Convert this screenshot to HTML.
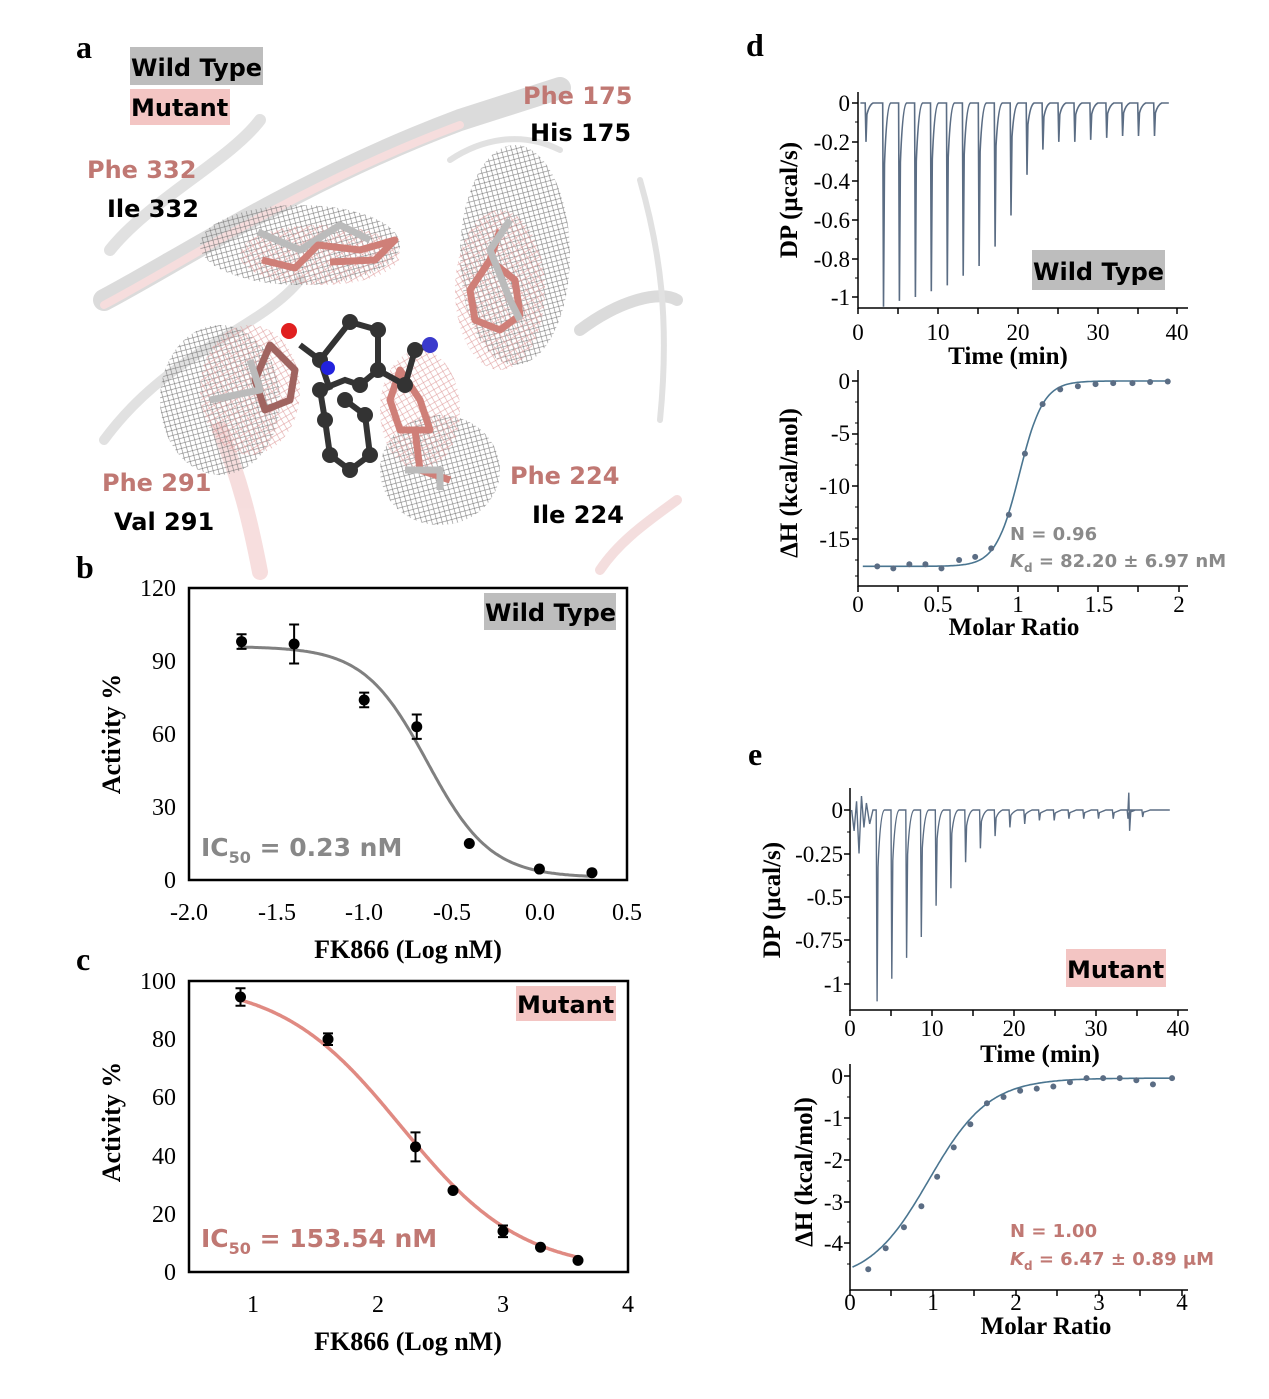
<!DOCTYPE html>
<html><head><meta charset="utf-8"><style>
body{margin:0;background:#fff}
svg{display:block}
.ser{font-family:"Liberation Serif",serif}
.sans{font-family:"DejaVu Sans","Liberation Sans",sans-serif;font-weight:bold}
</style></head><body>
<svg id="s" width="1269" height="1399" viewBox="0 0 1269 1399" xmlns="http://www.w3.org/2000/svg">
<defs>
<pattern id="mg" width="7" height="7" patternUnits="userSpaceOnUse" patternTransform="rotate(30)"><path d="M0 0L7 7M7 0L0 7" stroke="#777" stroke-width="0.6"/></pattern>
<pattern id="mp" width="8" height="8" patternUnits="userSpaceOnUse" patternTransform="rotate(15)"><path d="M0 0L8 8M8 0L0 8" stroke="#e0a0a0" stroke-width="0.6"/></pattern>
</defs>
<g opacity="0.35" fill="none" stroke-linecap="round">
<path d="M104 300 C180 260 300 180 460 120 L560 88" stroke="#999" stroke-width="22"/>
<path d="M104 305 C180 265 300 185 460 125" stroke="#e7a0a0" stroke-width="8"/>
<path d="M110 250 C150 200 230 160 260 120" stroke="#aaa" stroke-width="12"/>
<path d="M104 440 C170 350 260 330 300 280" stroke="#aaa" stroke-width="10"/>
<path d="M580 330 C620 300 660 290 677 300" stroke="#999" stroke-width="12"/>
<path d="M600 570 C620 540 650 520 677 500" stroke="#e0a0a0" stroke-width="10"/>
<path d="M260 572 C250 520 240 480 220 430" stroke="#e7a0a0" stroke-width="16"/>
<path d="M640 180 C660 250 670 320 660 420" stroke="#aaa" stroke-width="6"/>
<path d="M450 160 C480 140 520 130 560 150" stroke="#aaa" stroke-width="6"/>
</g>
<ellipse cx="300" cy="245" rx="100" ry="40" fill="url(#mg)"/>
<ellipse cx="320" cy="255" rx="80" ry="30" fill="url(#mp)"/>
<ellipse cx="515" cy="255" rx="55" ry="110" fill="url(#mg)"/>
<ellipse cx="500" cy="290" rx="45" ry="80" fill="url(#mp)"/>
<ellipse cx="220" cy="400" rx="60" ry="75" fill="url(#mg)"/>
<ellipse cx="250" cy="390" rx="50" ry="65" fill="url(#mp)"/>
<ellipse cx="440" cy="470" rx="60" ry="55" fill="url(#mg)"/>
<ellipse cx="420" cy="410" rx="40" ry="60" fill="url(#mp)"/>
<g fill="none" stroke-width="7" stroke-linejoin="round">
<path d="M258 232 L300 250 L340 225 L370 240" stroke="#bbb"/>
<path d="M262 260 L295 268 L318 245 L360 250 L395 240 L375 260 L330 262" stroke="#cf7f78"/>
<path d="M500 230 L490 260 L470 290 L475 320 L500 330 L520 315 L515 280 L490 260" stroke="#cf7f78"/>
<path d="M510 220 L490 250 L510 300 L520 320" stroke="#bbb"/>
<path d="M270 345 L255 380 L265 410 L290 400 L295 370 Z" stroke="#a06460"/>
<path d="M210 400 L260 390 L250 360" stroke="#bbb"/>
<path d="M400 370 L390 400 L400 430 L430 430 L420 400 Z" stroke="#cf7f78"/>
<path d="M415 430 L420 470 L450 480" stroke="#cf7f78"/>
<path d="M405 470 L440 470 L440 490" stroke="#bbb"/>
</g>
<g stroke="#333" stroke-width="6" fill="none">
<path d="M300 345 L320 360 L350 322 L378 330 L378 370 L405 385 L415 350 L430 345 M378 370 L360 385 L345 380 L320 390 L325 420 L330 455 L350 470 L370 455 L365 415 L345 400 M320 360 L330 390"/>
</g>
<g fill="#333">
<circle cx="320" cy="360" r="8"/><circle cx="350" cy="322" r="8"/><circle cx="378" cy="330" r="8"/><circle cx="378" cy="370" r="8"/><circle cx="405" cy="385" r="8"/><circle cx="415" cy="350" r="8"/><circle cx="360" cy="385" r="8"/><circle cx="345" cy="400" r="8"/><circle cx="320" cy="390" r="8"/><circle cx="325" cy="420" r="8"/><circle cx="330" cy="455" r="8"/><circle cx="350" cy="470" r="8"/><circle cx="370" cy="455" r="8"/><circle cx="365" cy="415" r="8"/><circle cx="430" cy="345" r="8" fill="#3a3acc"/><circle cx="328" cy="368" r="7" fill="#2222dd"/><circle cx="289" cy="331" r="8" fill="#e02020"/>
</g>
<rect x="130" y="47" width="133" height="38" fill="#bdbdbd"/>
<rect x="130" y="89" width="100" height="36" fill="#f3c5c3"/>
<g class="sans" font-size="24">
<text x="131" y="76">Wild Type</text>
<text x="131" y="116">Mutant</text>
<text x="523" y="104" fill="#c07873">Phe 175</text>
<text x="530" y="141">His 175</text>
<text x="87" y="178" fill="#c07873">Phe 332</text>
<text x="107" y="217">Ile 332</text>
<text x="102" y="491" fill="#c07873">Phe 291</text>
<text x="114" y="530">Val 291</text>
<text x="510" y="484" fill="#c07873">Phe 224</text>
<text x="532" y="523">Ile 224</text>
</g>
<g class="ser" font-weight="bold" font-size="32">
<text x="76" y="58">a</text><text x="76" y="578">b</text><text x="76" y="970">c</text><text x="746" y="56">d</text><text x="748" y="765">e</text>
</g>
<rect x="189" y="588" width="438" height="292" fill="none" stroke="#000" stroke-width="2.5"/>
<rect x="484" y="593" width="132" height="37" fill="#bdbdbd"/>
<text class="sans" x="485" y="621" font-size="24">Wild Type</text>
<text class="sans" x="201" y="856" font-size="25" fill="#888">IC<tspan font-size="16" dy="7">50</tspan><tspan dy="-7"> = 0.23 nM</tspan></text>
<g class="ser" font-size="24" text-anchor="end">
<text x="176" y="596">120</text><text x="176" y="669">90</text><text x="176" y="742">60</text><text x="176" y="815">30</text><text x="176" y="888">0</text>
</g>
<g class="ser" font-size="24" text-anchor="middle">
<text x="189" y="920">-2.0</text><text x="277" y="920">-1.5</text><text x="364" y="920">-1.0</text><text x="452" y="920">-0.5</text><text x="540" y="920">0.0</text><text x="627" y="920">0.5</text>
</g>
<text class="ser" font-weight="bold" font-size="26" x="408" y="958" text-anchor="middle">FK866 (Log nM)</text>
<text class="ser" font-weight="bold" font-size="26" transform="translate(120,734) rotate(-90)" text-anchor="middle">Activity %</text>
<rect x="189" y="981" width="439" height="291" fill="none" stroke="#000" stroke-width="2.5"/>
<rect x="516" y="986" width="100" height="35" fill="#f3c5c3"/>
<text class="sans" x="517" y="1013" font-size="24">Mutant</text>
<text class="sans" x="201" y="1247" font-size="25" fill="#c07873">IC<tspan font-size="16" dy="7">50</tspan><tspan dy="-7"> = 153.54 nM</tspan></text>
<g class="ser" font-size="24" text-anchor="end">
<text x="176" y="989">100</text><text x="176" y="1047">80</text><text x="176" y="1105">60</text><text x="176" y="1164">40</text><text x="176" y="1222">20</text><text x="176" y="1280">0</text>
</g>
<g class="ser" font-size="24" text-anchor="middle">
<text x="253" y="1312">1</text><text x="378" y="1312">2</text><text x="503" y="1312">3</text><text x="628" y="1312">4</text>
</g>
<text class="ser" font-weight="bold" font-size="26" x="408" y="1350" text-anchor="middle">FK866 (Log nM)</text>
<text class="ser" font-weight="bold" font-size="26" transform="translate(120,1122) rotate(-90)" text-anchor="middle">Activity %</text>
<g class="ser" font-size="23">
<g text-anchor="end"><text x="850" y="111">0</text><text x="850" y="150">-0.2</text><text x="850" y="189">-0.4</text><text x="850" y="228">-0.6</text><text x="850" y="267">-0.8</text><text x="850" y="305">-1</text>
<text x="850" y="389">0</text><text x="850" y="441">-5</text><text x="850" y="494">-10</text><text x="850" y="547">-15</text></g>
<g text-anchor="middle"><text x="858" y="340">0</text><text x="938" y="340">10</text><text x="1018" y="340">20</text><text x="1098" y="340">30</text><text x="1177" y="340">40</text>
<text x="858" y="612">0</text><text x="938" y="612">0.5</text><text x="1018" y="612">1</text><text x="1099" y="612">1.5</text><text x="1179" y="612">2</text></g>
</g>
<text class="ser" font-weight="bold" font-size="25" x="1008" y="364" text-anchor="middle">Time (min)</text>
<text class="ser" font-weight="bold" font-size="25" x="1014" y="635" text-anchor="middle">Molar Ratio</text>
<text class="ser" font-weight="bold" font-size="25" transform="translate(797,200) rotate(-90)" text-anchor="middle">DP (μcal/s)</text>
<text class="ser" font-weight="bold" font-size="25" transform="translate(797,483) rotate(-90)" text-anchor="middle">ΔH (kcal/mol)</text>
<rect x="1032" y="250" width="133" height="40" fill="#bdbdbd"/>
<text class="sans" x="1033" y="280" font-size="24">Wild Type</text>
<text class="sans" x="1010" y="540" font-size="18" fill="#8a8a8a">N = 0.96</text>
<text class="sans" x="1010" y="567" font-size="18" fill="#8a8a8a"><tspan font-style="italic">K</tspan><tspan font-size="12" dy="5">d</tspan><tspan dy="-5"> = 82.20 ± 6.97 nM</tspan></text>
<g class="ser" font-size="23">
<g text-anchor="end"><text x="843" y="818">0</text><text x="843" y="862">-0.25</text><text x="843" y="905">-0.5</text><text x="843" y="948">-0.75</text><text x="843" y="992">-1</text>
<text x="843" y="1084">0</text><text x="843" y="1126">-1</text><text x="843" y="1168">-2</text><text x="843" y="1210">-3</text><text x="843" y="1251">-4</text></g>
<g text-anchor="middle"><text x="850" y="1036">0</text><text x="932" y="1036">10</text><text x="1014" y="1036">20</text><text x="1096" y="1036">30</text><text x="1178" y="1036">40</text>
<text x="850" y="1310">0</text><text x="933" y="1310">1</text><text x="1016" y="1310">2</text><text x="1099" y="1310">3</text><text x="1182" y="1310">4</text></g>
</g>
<text class="ser" font-weight="bold" font-size="25" x="1040" y="1062" text-anchor="middle">Time (min)</text>
<text class="ser" font-weight="bold" font-size="25" x="1046" y="1334" text-anchor="middle">Molar Ratio</text>
<text class="ser" font-weight="bold" font-size="25" transform="translate(780,900) rotate(-90)" text-anchor="middle">DP (μcal/s)</text>
<text class="ser" font-weight="bold" font-size="25" transform="translate(812,1172) rotate(-90)" text-anchor="middle">ΔH (kcal/mol)</text>
<rect x="1066" y="949" width="100" height="38" fill="#f3c5c3"/>
<text class="sans" x="1067" y="978" font-size="24">Mutant</text>
<text class="sans" x="1010" y="1237" font-size="18" fill="#c07873">N = 1.00</text>
<text class="sans" x="1010" y="1265" font-size="18" fill="#c07873"><tspan font-style="italic">K</tspan><tspan font-size="12" dy="5">d</tspan><tspan dy="-5"> = 6.47 ± 0.89 μM</tspan></text>
<g id="dyn"></g>
</svg>
<script>
var g=document.getElementById('dyn'),h='';
function P(d,c,w){h+='<path d="'+d+'" fill="none" stroke="'+c+'" stroke-width="'+w+'"/>';}
function C(x,y,r,c){h+='<circle cx="'+x+'" cy="'+y+'" r="'+r+'" fill="'+c+'"/>';}
var bx=function(v){return 189+(v+2)*175.2},by=function(v){return 880-v*2.433};
var d='';for(var x=-1.72;x<=0.31;x+=0.01){var y=1+95/(1+Math.pow(10,(x+0.64)*2.4));d+=(d?'L':'M')+bx(x).toFixed(1)+' '+by(y).toFixed(1);}P(d,'#808080',3);
[[-1.7,98,3],[-1.4,97,8],[-1,74,3],[-0.7,63,5],[-0.4,15,0],[0,4.5,0],[0.3,3,0]].forEach(function(p){var X=bx(p[0]),Y=by(p[1]);if(p[2]){var e=p[2]*2.433;P('M'+X+' '+(Y-e)+'V'+(Y+e)+'M'+(X-5)+' '+(Y-e)+'h10M'+(X-5)+' '+(Y+e)+'h10','#000',2);}C(X,Y,5.5,'#000');});
var cx=function(v){return 128+v*125},cy=function(v){return 1272-v*2.91};
d='';for(var x=0.9;x<=3.61;x+=0.01){var y=100/(1+Math.pow(10,(x-2.186)*0.9));d+=(d?'L':'M')+cx(x).toFixed(1)+' '+cy(y).toFixed(1);}P(d,'#e08a82',3.5);
[[0.9,94.5,3],[1.6,80,2],[2.3,43,5],[2.6,28,0],[3,14,2],[3.3,8.5,0],[3.6,4,0]].forEach(function(p){var X=cx(p[0]),Y=cy(p[1]);if(p[2]){var e=p[2]*2.91;P('M'+X+' '+(Y-e)+'V'+(Y+e)+'M'+(X-5)+' '+(Y-e)+'h10M'+(X-5)+' '+(Y+e)+'h10','#000',2);}C(X,Y,5.5,'#000');});
function axes(x0,y0,x1,y1,xt,yt,ym){P('M'+x0+' '+y0+'V'+y1+'H'+x1,'#000',1.5);xt.forEach(function(t){P('M'+t+' '+y1+'v6','#000',1.5);});yt.forEach(function(t){P('M'+x0+' '+t+'h-6','#000',1.5);});(ym||[]).forEach(function(t){P('M'+x0+' '+t+'h-3','#000',1);});}
axes(858,92,1188,308,[858,898,938,978,1018,1058,1098,1138,1177],[103,142,181,220,259,297],[122,161,200,239,278]);
axes(858,370,1188,586,[858,898,938,978,1018,1058,1098,1138,1179],[381,434,486,539],[402,423,444,465,507,528,560,576]);
axes(850,788,1188,1010,[850,891,932,973,1014,1055,1096,1137,1178],[810,854,897,940,984],[832,875,918,962]);
axes(850,1064,1188,1290,[850,891,933,974,1016,1057,1099,1140,1182],[1076,1118,1160,1202,1243],[1097,1139,1181,1222,1264]);
var tx=function(t){return 858+t*7.97},ty=function(v){return 103-v*194};
var depths=[0.2,1.05,1.02,1,0.97,0.94,0.89,0.84,0.74,0.58,0.37,0.24,0.2,0.2,0.19,0.18,0.17,0.17,0.17];
d='M'+tx(0.3)+' '+ty(0);
depths.forEach(function(v,i){var t=i==0?1:3.2+(i-1)*2;d+='L'+tx(t-0.1).toFixed(1)+' '+ty(0)+'L'+tx(t).toFixed(1)+' '+ty(-v).toFixed(1)+'L'+tx(t+0.12).toFixed(1)+' '+ty(-v*0.3).toFixed(1)+'Q'+tx(t+0.4).toFixed(1)+' '+ty(-0.01)+' '+tx(t+0.9).toFixed(1)+' '+ty(0);});
d+='L'+tx(39)+' '+ty(0);P(d,'#5b6d84',1.6);
var mx=function(r){return 858+r*160.5},my=function(v){return 381-v*10.53};
d='';for(var r=0.03;r<=1.94;r+=0.01){var y=-17.6+17.6/(1+Math.exp(-(r-1.006)/0.074));d+=(d?'L':'M')+mx(r).toFixed(1)+' '+my(y).toFixed(1);}P(d,'#4a7590',1.6);
var xs=[0.12,0.22,0.32,0.42,0.52,0.63,0.73,0.83,0.94,1.04,1.15,1.26,1.37,1.48,1.59,1.71,1.82,1.93],ys=[-17.6,-17.8,-17.4,-17.4,-17.8,-17,-16.7,-15.9,-12.7,-6.9,-2.2,-0.8,-0.5,-0.3,-0.2,-0.2,-0.1,-0.05];
xs.forEach(function(x,i){C(mx(x),my(ys[i]),3,'#5b6d84');});
var ex=function(t){return 850+t*8.2},ey=function(v){return 810-v*174};
var ed=[1.1,0.97,0.85,0.73,0.55,0.45,0.3,0.22,0.15,0.1,0.08,0.06,0.06,0.05,0.05,0.05,0.05,0.05,0.04];
d='M'+ex(0.2)+' '+ey(0)+'L'+ex(0.5)+' '+ey(-0.12)+'L'+ex(0.8)+' '+ey(0.05)+'L'+ex(1.1)+' '+ey(-0.25)+'L'+ex(1.4)+' '+ey(0.08)+'L'+ex(1.7)+' '+ey(-0.1)+'L'+ex(2)+' '+ey(0.04)+'L'+ex(2.4)+' '+ey(-0.08)+'L'+ex(2.8)+' '+ey(0);
ed.forEach(function(v,i){var t=3.3+i*1.8;d+='L'+ex(t-0.1).toFixed(1)+' '+ey(0)+'L'+ex(t).toFixed(1)+' '+ey(-v).toFixed(1)+'L'+ex(t+0.12).toFixed(1)+' '+ey(-v*0.3).toFixed(1)+'Q'+ex(t+0.4).toFixed(1)+' '+ey(-0.01)+' '+ex(t+0.9).toFixed(1)+' '+ey(0);if(i==17){d+='L'+ex(33.9)+' '+ey(0)+'L'+ex(34)+' '+ey(0.1)+'L'+ex(34.1)+' '+ey(-0.12)+'L'+ex(34.25)+' '+ey(0);}});
d+='L'+ex(39)+' '+ey(0);P(d,'#5b6d84',1.4);
var nx=function(r){return 850+r*83},ny=function(v){return 1076-v*42};
d='';for(var r=0.03;r<=3.9;r+=0.02){var y=-0.05-4.85/(1+Math.exp((r-0.95)/0.36));d+=(d?'L':'M')+nx(r).toFixed(1)+' '+ny(y).toFixed(1);}P(d,'#4a7590',1.6);
[[0.22,-4.6],[0.43,-4.1],[0.65,-3.6],[0.86,-3.1],[1.05,-2.4],[1.25,-1.7],[1.45,-1.15],[1.65,-0.65],[1.85,-0.5],[2.05,-0.35],[2.25,-0.3],[2.45,-0.25],[2.65,-0.15],[2.85,-0.05],[3.05,-0.05],[3.25,-0.05],[3.45,-0.1],[3.65,-0.2],[3.88,-0.05]].forEach(function(p){C(nx(p[0]),ny(p[1]),3,'#5b6d84');});
g.innerHTML=h;
</script>
</body></html>
